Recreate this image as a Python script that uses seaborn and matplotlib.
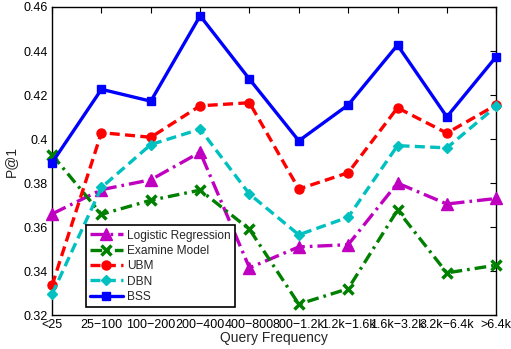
import matplotlib
matplotlib.use("Agg")
import matplotlib.pyplot as plt
import seaborn as sns
import pandas as pd

categories = ["<25", "25\u2212100", "100\u2212200", "200\u2212400", "400\u2212800",
              "800\u22121.2k", "1.2k\u22121.6k", "1.6k\u22123.2k", "3.2k\u22126.4k", ">6.4k"]
logistic = [0.366, 0.377, 0.3815, 0.394, 0.3415, 0.351, 0.352, 0.380, 0.3705, 0.373]
examine = [0.3928, 0.3658, 0.3722, 0.3768, 0.359, 0.325, 0.332, 0.3677, 0.3392, 0.3427]
ubm = [0.3336, 0.4029, 0.4008, 0.4151, 0.4165, 0.3773, 0.3847, 0.4142, 0.4027, 0.4155]
dbn = [0.3296, 0.378, 0.3975, 0.4045, 0.375, 0.3565, 0.3645, 0.397, 0.396, 0.4148]
bss = [0.3893, 0.4226, 0.4172, 0.456, 0.4272, 0.3992, 0.4155, 0.4427, 0.4101, 0.4374]
series_names = ["Logistic Regression", "Examine Model", "UBM", "DBN", "BSS"]
yticks = [0.32, 0.34, 0.36, 0.38, 0.40, 0.42, 0.44, 0.46]
ytick_labels = ["0.32", "0.34", "0.36", "0.38", "0.4", "0.42", "0.44", "0.46"]

values = [logistic, examine, ubm, dbn, bss]
rows = []
for name, vals in zip(series_names, values):
    for i, (c, v) in enumerate(zip(categories, vals)):
        rows.append({"pos": i, "Query Frequency": c, "P@1": v, "series": name})
df = pd.DataFrame(rows)

sns.set_style("white")
plt.rcParams["font.family"] = ["Liberation Sans", "DejaVu Sans"]

styles = {
    "Logistic Regression": dict(color="#c000c0", ls=(0, (4.5, 1.5, 0.8, 1.5)), marker="^", ms=8),
    "Examine Model": dict(color="#008000", ls=(0, (3.5, 1.5, 0.8, 1.5)), marker="x", ms=7, mew=2.5),
    "UBM": dict(color="#ff0000", ls=(0, (3.0, 1.6)), marker="o", ms=6.5),
    "DBN": dict(color="#00c0c0", ls=(0, (3.0, 1.6)), marker="D", ms=5.5),
    "BSS": dict(color="#0000ff", ls="-", marker="s", ms=6),
}

fig = plt.figure(figsize=(5.11, 3.49), dpi=100)
ax = fig.add_axes([0.102, 0.097, 0.869, 0.883])
for name in series_names:
    st = styles[name]
    sub = df[df["series"] == name]
    sns.lineplot(data=sub, x="pos", y="P@1", ax=ax, color=st["color"], linestyle=st["ls"],
                 linewidth=2.4, marker=st["marker"], markersize=st["ms"],
                 markeredgecolor=st["color"], markeredgewidth=st.get("mew", 1),
                 label=name, legend=False, clip_on=False)

ax.set_xlim(0, len(categories) - 1)
ax.set_ylim(0.32, 0.46)
ax.set_xticks(range(len(categories)))
ax.set_xticklabels(categories, fontsize=9)
ax.set_yticks(yticks)
ax.set_yticklabels(ytick_labels, fontsize=9)
ax.set_xlabel("Query Frequency", fontsize=10, labelpad=0)
ax.set_ylabel("P@1", fontsize=10, labelpad=4)
ax.tick_params(direction="in", length=4, width=0.8, top=True, right=True, pad=3,
               colors="black")
for sp in ax.spines.values():
    sp.set_color("black")
    sp.set_linewidth(1.0)
    sp.set_zorder(1)

leg = ax.legend(loc="lower left", bbox_to_anchor=(0.0766, 0.026), fontsize=8.6,
                frameon=True, fancybox=False, edgecolor="black", framealpha=1,
                handlelength=2.7, borderpad=0.35, labelspacing=0.28, handletextpad=0.35,
                borderaxespad=0)
leg.get_frame().set_linewidth(1.2)
leg.set_zorder(10)

fig.savefig("out.png", dpi=100)
